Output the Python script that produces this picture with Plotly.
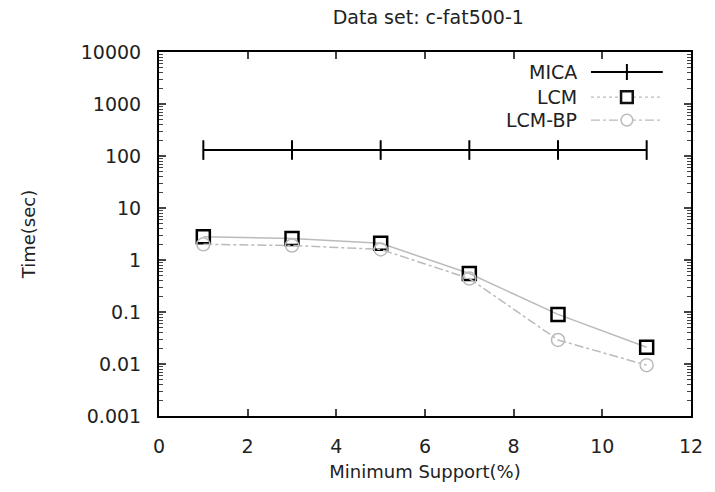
import plotly.graph_objects as go

support = [1, 3, 5, 7, 9, 11]
mica = [130, 130, 130, 130, 130, 130]
lcm = [2.8, 2.6, 2.1, 0.55, 0.09, 0.021]
lcm_bp = [2.0, 1.9, 1.6, 0.44, 0.029, 0.0095]
series_names = ["MICA", "LCM", "LCM-BP"]
y_ticks = [0.001, 0.01, 0.1, 1, 10, 100, 1000, 10000]
y_tick_labels = ["0.001", "0.01", "0.1", "1", "10", "100", "1000", "10000"]

FONT = "DejaVu Sans, Liberation Sans, Arial, sans-serif"
TXT = "#222222"
FS = 19

fig = go.Figure()
fig.add_trace(go.Scatter(x=support, y=mica, name=series_names[0], mode="lines+markers",
                         line=dict(color="black", width=2),
                         marker=dict(symbol="line-ns", size=14, line=dict(color="black", width=2)),
                         showlegend=False))
fig.add_trace(go.Scatter(x=support, y=lcm, name=series_names[1], mode="lines+markers",
                         line=dict(color="#bbbbbb", width=1.5),
                         marker=dict(symbol="square-open", size=13, color="black", line=dict(color="#111111", width=2.5)),
                         showlegend=False))
fig.add_trace(go.Scatter(x=support, y=lcm_bp, name=series_names[2], mode="lines+markers",
                         line=dict(color="#bbbbbb", width=1.5, dash="dashdot"),
                         marker=dict(symbol="circle-open", size=13, color="#bbbbbb", line=dict(color="#bbbbbb", width=1.5)),
                         showlegend=False))

# Custom legend (text on left, sample on right) in paper coordinates
leg_y = [0.945, 0.876, 0.813]
text_x = 0.79
samp_x0, samp_x1 = 0.812, 0.947
samp_mid = (samp_x0 + samp_x1) / 2
styles = [dict(color="black", width=2, dash="solid"),
          dict(color="#bbbbbb", width=1.2, dash="dot"),
          dict(color="#bbbbbb", width=1.2, dash="dashdot")]
for name, yy, st in zip(series_names, leg_y, styles):
    fig.add_annotation(x=text_x, y=yy, xref="paper", yref="paper", text=name, showarrow=False,
                       xanchor="right", yanchor="middle", font=dict(family=FONT, size=FS, color=TXT))
    fig.add_shape(type="line", xref="paper", yref="paper", x0=samp_x0, x1=samp_x1, y0=yy, y1=yy, line=st)
fig.add_shape(type="line", xref="paper", yref="paper", x0=samp_mid, x1=samp_mid,
              y0=leg_y[0] - 0.022, y1=leg_y[0] + 0.022, line=dict(color="black", width=2))
fig.add_shape(type="rect", xref="paper", yref="paper", x0=samp_mid - 0.011, x1=samp_mid + 0.011,
              y0=leg_y[1] - 0.016, y1=leg_y[1] + 0.016, line=dict(color="#111111", width=2.5),
              fillcolor="white")
fig.add_shape(type="circle", xref="paper", yref="paper", x0=samp_mid - 0.011, x1=samp_mid + 0.011,
              y0=leg_y[2] - 0.016, y1=leg_y[2] + 0.016, line=dict(color="#bbbbbb", width=1.5),
              fillcolor="white")

fig.update_layout(
    width=715, height=492,
    margin=dict(l=159, r=18, t=52, b=76),
    paper_bgcolor="white", plot_bgcolor="white",
    font=dict(family=FONT, size=FS, color=TXT),
    title=dict(text="Data set: c-fat500-1", x=0.599, xanchor="center", y=0.965, yanchor="middle",
               font=dict(family=FONT, size=FS, color=TXT)),
)
fig.update_xaxes(range=[0, 12], dtick=2, tick0=0, ticks="inside", ticklen=7, tickwidth=1.5,
                 ticklabelstandoff=12,
                 showline=True, linecolor="black", linewidth=2, mirror="ticks", showgrid=False, zeroline=False,
                 title=dict(text="Minimum Support(%)", font=dict(family=FONT, size=FS - 1, color=TXT), standoff=10),
                 tickfont=dict(family=FONT, size=FS, color=TXT))
fig.update_yaxes(type="log", range=[-3, 4], tickvals=y_ticks, ticktext=y_tick_labels,
                 ticks="inside", ticklen=7, tickwidth=1.5, ticklabelstandoff=12,
                 minor=dict(ticks="inside", ticklen=4, tickwidth=1, dtick="D1", showgrid=False),
                 showline=True, linecolor="black", linewidth=2, mirror="ticks", showgrid=False, zeroline=False,
                 title=dict(text="Time(sec)", font=dict(family=FONT, size=FS - 1, color=TXT), standoff=40),
                 tickfont=dict(family=FONT, size=FS, color=TXT))

fig.write_html("out.html", config={"displayModeBar": False},
               post_script="document.body.style.margin='0';document.body.style.padding='0';")
